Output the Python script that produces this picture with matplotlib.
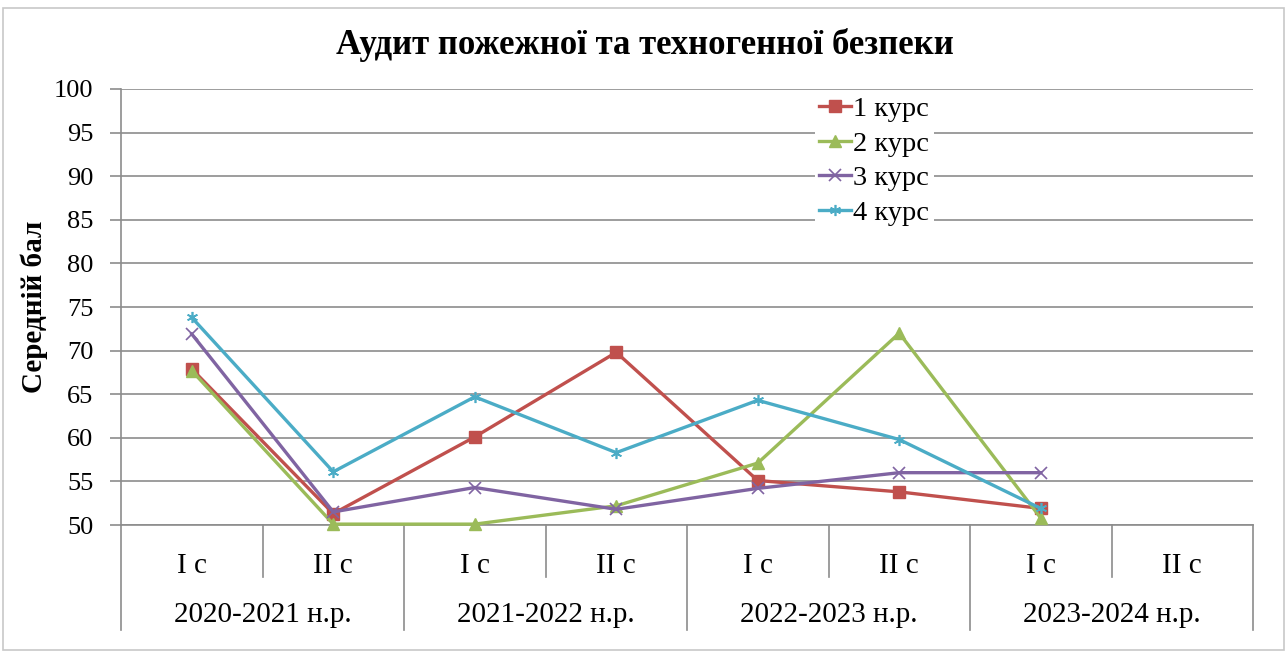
import matplotlib
matplotlib.use("Agg")
import matplotlib.pyplot as plt
from matplotlib.patches import Rectangle
import matplotlib.transforms as mtransforms

semesters = ["I c", "II c", "I c", "II c", "I c", "II c", "I c", "II c"]
years = ["2020-2021 н.р.", "2021-2022 н.р.", "2022-2023 н.р.", "2023-2024 н.р."]
nan = float("nan")
course1 = [67.9, 51.3, 60.1, 69.8, 55.1, 53.8, 51.9, nan]
course2 = [67.7, 50.1, 50.1, 52.2, 57.1, 72.0, 50.8, nan]
course3 = [71.9, 51.5, 54.3, 51.8, 54.2, 56.0, 56.0, nan]
course4 = [73.8, 56.1, 64.7, 58.3, 64.3, 59.8, 51.9, nan]
series_names = ["1 курс", "2 курс", "3 курс", "4 курс"]
yticks = [50, 55, 60, 65, 70, 75, 80, 85, 90, 95, 100]

plt.rcParams['font.family'] = ['Liberation Serif', 'DejaVu Serif']

W, H = 1287, 653
fig = plt.figure(figsize=(W / 100, H / 100), dpi=100)
fig.patches.append(Rectangle((3 / W, 3 / H), (W - 6) / W, (H - 11) / H,
                             transform=fig.transFigure, fill=False,
                             edgecolor='#c8c8c8', lw=1.2))

left, right, top, bottom = 121, 1253, 89, 525
ax = fig.add_axes([left / W, 1 - bottom / H, (right - left) / W, (bottom - top) / H])

x = list(range(len(semesters)))
colors = ['#C0504D', '#9BBB59', '#8064A2', '#4BACC6']
markers = ['s', '^', 'x', (6, 2, 0)]
for vals, c, m, name in zip([course1, course2, course3, course4], colors, markers, series_names):
    ax.plot(x, vals, color=c, lw=2.4, marker=m, markersize=8, markeredgewidth=1.0 if m in ('s', '^') else 1.2,
            markerfacecolor=c, markeredgecolor=c, label=name, clip_on=False, zorder=3)

ax.set_xlim(-0.5, len(semesters) - 0.5)
ax.set_ylim(yticks[0], yticks[-1])
ax.set_yticks(yticks)
ax.set_yticklabels([str(v) for v in yticks], fontsize=19)
ax.yaxis.grid(True, color='#8c8c8c', lw=1.2)
ax.set_axisbelow(True)
for s in ['top', 'right']:
    ax.spines[s].set_visible(False)
ax.spines['left'].set_color('#8c8c8c')
ax.spines['bottom'].set_color('#8c8c8c')
ax.spines['left'].set_linewidth(1.2)
ax.spines['bottom'].set_linewidth(1.2)
ax.tick_params(axis='y', length=8, width=1.2, color='#8c8c8c', pad=12)

# category axis
ax.set_xticks(x)
ax.set_xticklabels(semesters, fontsize=21)
ax.tick_params(axis='x', length=0, pad=20)

trans = mtransforms.blended_transform_factory(ax.transData, ax.transAxes)
px = 1 / (bottom - top)
for i in range(len(semesters) + 1):
    b = i - 0.5
    depth = 105 if i % 2 == 0 else 52
    ax.plot([b, b], [0, -depth * px], transform=trans, color='#8c8c8c', lw=1.2, clip_on=False)
for j, yr in enumerate(years):
    ax.text(2 * j + 0.5, -90 * px, yr, transform=trans, ha='center', va='center', fontsize=21)

ax.set_ylabel("Середній бал", fontsize=21, fontweight='bold', labelpad=4)
fig.text(645 / W, 1 - 45 / H, "Аудит пожежної та техногенної безпеки", ha='center', va='center',
         fontsize=25, fontweight='bold')

leg = ax.legend(loc='upper left', bbox_to_anchor=((815 - left) / (right - left), 1 - (92 - top) * px),
                frameon=True, fontsize=20.5, handlelength=1.1, handletextpad=0.1,
                labelspacing=0.3, borderpad=0.15, borderaxespad=0)
leg.get_frame().set_edgecolor('none')
leg.get_frame().set_facecolor('white')
leg.get_frame().set_alpha(1)

fig.savefig("out.png", dpi=100)
